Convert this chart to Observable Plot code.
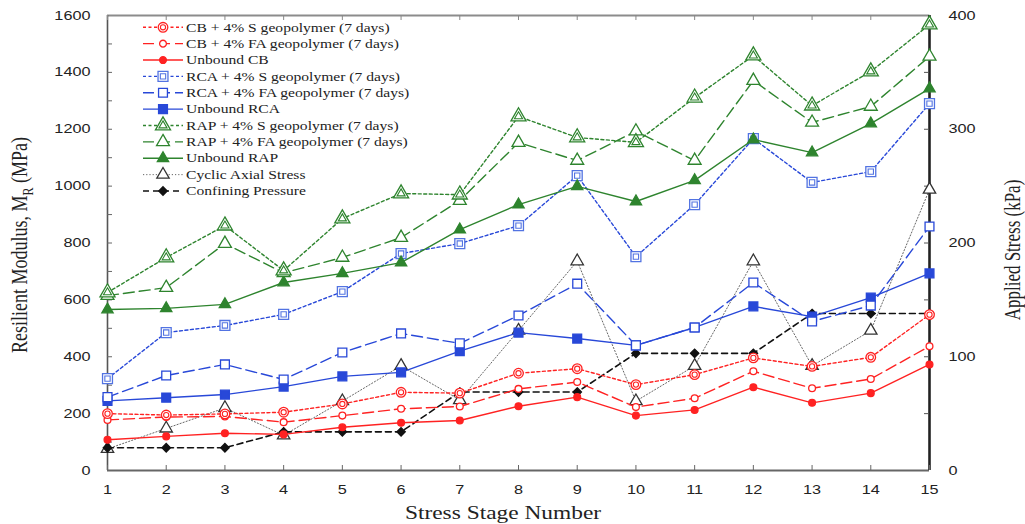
<!DOCTYPE html>
<html>
<head>
<meta charset="utf-8">
<script src="https://cdn.jsdelivr.net/npm/d3@7"></script>
<script src="https://cdn.jsdelivr.net/npm/@observablehq/plot@0.6"></script>
<style>
  html, body { margin: 0; padding: 0; background: #fff; }
  #chart { width: 1025px; height: 524px; }
</style>
</head>
<body>
<div id="chart"></div>
<script>
// ---------- data ----------
const stages = [1, 2, 3, 4, 5, 6, 7, 8, 9, 10, 11, 12, 13, 14, 15];
const leftTickLabels = [0, 200, 400, 600, 800, 1000, 1200, 1400, 1600];
const leftMinorTicks = [100, 200, 300, 400, 500, 600, 700, 800, 900, 1000, 1100, 1200, 1300, 1400, 1500];
const rightTickLabels = [0, 100, 200, 300, 400];          // kPa
const rightMinorTicks = [50, 100, 150, 200, 250, 300, 350]; // kPa

const seriesNames = [
  "CB + 4% S geopolymer (7 days)",
  "CB + 4% FA geopolymer (7 days)",
  "Unbound CB",
  "RCA + 4% S geopolymer (7 days)",
  "RCA + 4% FA geopolymer (7 days)",
  "Unbound RCA",
  "RAP + 4% S geopolymer (7 days)",
  "RAP + 4% FA geopolymer (7 days)",
  "Unbound RAP",
  "Cyclic Axial Stress",
  "Confining Pressure"
];

// Resilient modulus (MPa)
const cbS   = [200, 195, 199, 205, 234, 275, 272, 342, 358, 302, 337, 396, 366, 398, 548];
const cbFA  = [178, 188, 190, 170, 193, 217, 225, 287, 311, 223, 254, 349, 289, 322, 437];
const cbU   = [108, 120, 131, 127, 152, 168, 176, 226, 258, 193, 213, 293, 238, 272, 373];
const rcaS  = [323, 485, 510, 549, 629, 763, 798, 861, 1037, 752, 935, 1167, 1013, 1051, 1290];
const rcaFA = [258, 334, 373, 320, 415, 482, 447, 545, 657, 440, 503, 661, 524, 580, 858];
const rcaU  = [245, 256, 267, 295, 331, 345, 420, 485, 464, 440, 503, 577, 541, 608, 693];
const rapS  = [626, 749, 861, 703, 886, 974, 970, 1245, 1171, 1154, 1311, 1459, 1283, 1403, 1568];
const rapFA = [615, 643, 798, 695, 749, 819, 949, 1153, 1090, 1193, 1090, 1371, 1224, 1280, 1456];
const rapU  = [566, 570, 584, 661, 693, 731, 847, 935, 999, 946, 1020, 1164, 1118, 1220, 1343];
// Applied stress (kPa)
const cyclicAxial = [19, 37, 55, 31, 61, 92, 62, 123, 184, 61, 92, 184, 92, 123, 247];
const confining   = [20, 20, 20, 34, 34, 34, 69, 69, 69, 103, 103, 103, 138, 138, 138];

const seriesValues = [cbS, cbFA, cbU, rcaS, rcaFA, rcaU, rapS, rapFA, rapU, cyclicAxial, confining];
const seriesUnit   = ["MPa","MPa","MPa","MPa","MPa","MPa","MPa","MPa","MPa","kPa","kPa"];

// ---------- styles ----------
const RED = "#ff2222", BLUE = "#2848d8", BLUE_S = "#5273e2", GREEN = "#2e842e";
const styles = [
  {color: RED,   dash: "3,2.5", sym: "circle",   r: 4.8, fill: "white", inner: 2.6},
  {color: RED,   dash: "11,5",  sym: "circle",   r: 3.4, fill: "white"},
  {color: RED,   dash: null,    sym: "circle",   r: 3.4, fill: RED},
  {color: BLUE,  dash: "3,2.5", sym: "square",   r: 5.6, fill: "white", inner: 3.0, mcolor: BLUE_S},
  {color: BLUE,  dash: "11,5",  sym: "square",   r: 5.0, fill: "white"},
  {color: BLUE,  dash: null,    sym: "square",   r: 5.0, fill: BLUE},
  {color: GREEN, dash: "3,2.5", sym: "triangle", r: 5.6, fill: "white", inner: 3.0},
  {color: GREEN, dash: "11,5",  sym: "triangle", r: 4.8, fill: "white"},
  {color: GREEN, dash: null,    sym: "triangle", r: 4.2, fill: GREEN},
  {color: "#666", dash: "1.2,2", sym: "triangle", r: 4.6, fill: "white", mcolor: "#333", width: 1},
  {color: "#111", dash: "6,4",  sym: "diamond2", r: 3.8, fill: "#111", width: 1.6}
];

const W = 1025, H = 524, mL = 107, mR = 96, mT = 15, mB = 54;
const innerW = W - mL - mR, innerH = H - mT - mB;
const kpaToAxis = 1600 / 400; // right axis 0-400 kPa shares the 0-1600 MPa frame

const rows = seriesNames.flatMap((name, i) => stages.map((s, j) => ({
  series: name, idx: i, stage: s, value: seriesValues[i][j],
  y: seriesValues[i][j] * (seriesUnit[i] === "kPa" ? kpaToAxis : 1)
})));

const drawOrder = [9, 10, 2, 1, 0, 5, 4, 3, 8, 7, 6];
const seriesMarks = drawOrder.flatMap(i => {
  const st = styles[i];
  const d = rows.filter(r => r.idx === i);
  const mc = st.mcolor || st.color;
  const m = [
    Plot.line(d, {x: "stage", y: "y", stroke: st.color, strokeWidth: st.width || 1.4,
                  strokeDasharray: st.dash || undefined}),
    Plot.dot(d, {x: "stage", y: "y", symbol: st.sym, r: st.r, stroke: mc, fill: st.fill, strokeWidth: 1.3})
  ];
  if (st.inner) m.push(Plot.dot(d, {x: "stage", y: "y", symbol: st.sym, r: st.inner, stroke: mc, fill: "none", strokeWidth: 1.1}));
  return m;
});

const svg = Plot.plot({
  width: W, height: H,
  marginLeft: mL, marginRight: mR, marginTop: mT, marginBottom: mB,
  style: {fontFamily: "'Liberation Sans', Arial, sans-serif", fontSize: "12.5px", color: "#222", background: "#fff"},
  x: {domain: [1, 15]},
  y: {domain: [0, 1600]},
  marks: [
    // frame
    Plot.ruleY([1600], {stroke: "#8c8c8c", strokeWidth: 2}),
    Plot.ruleY([0], {stroke: "#666", strokeWidth: 2}),
    Plot.ruleX([1], {stroke: "#555", strokeWidth: 1.6}),
    Plot.ruleX([15], {stroke: "#222", strokeWidth: 2.6}),
    // inward ticks
    Plot.tickX(stages, {x: d => d, insetTop: innerH - 5, stroke: "#666"}),
    Plot.tickX(stages, {x: d => d, insetBottom: innerH - 5, stroke: "#888"}),
    Plot.tickY(leftMinorTicks, {y: d => d, insetRight: innerW - 5, stroke: "#666"}),
    Plot.tickY(rightMinorTicks, {y: d => d * kpaToAxis, insetLeft: innerW - 5, stroke: "#555"}),
    // axis labels
    Plot.axisX(stages, {anchor: "bottom", tickSize: 0, tickPadding: 15, label: null, tickFormat: d => String(d)}),
    Plot.axisY(leftTickLabels, {anchor: "left", tickSize: 0, tickPadding: 17, label: null, tickFormat: d => String(d)}),
    Plot.axisY(rightTickLabels.map(d => d * kpaToAxis), {anchor: "right", tickSize: 0, tickPadding: 19,
      tickFormat: d => String(d / kpaToAxis), label: null}),
    ...seriesMarks
  ]
});

document.getElementById("chart").appendChild(svg);

// horizontal stretch of text to match the reference rendering
const SX = 1.3;
d3.select(svg).selectAll('g[aria-label$="tick label"] text').each(function () {
  const t = this.getAttribute("transform");
  if (t) this.setAttribute("transform", t + ` scale(${SX},1)`);
  else {
    const x = +this.getAttribute("x") || 0, y = +this.getAttribute("y") || 0;
    this.setAttribute("x", 0); this.setAttribute("y", 0);
    this.setAttribute("transform", `translate(${x},${y}) scale(${SX},1)`);
  }
});

const SERIF = "'Liberation Serif', 'Times New Roman', serif";
const root = d3.select(svg);

// axis titles
root.append("text")
  .attr("transform", `translate(503,519) scale(${SX},1)`)
  .attr("text-anchor", "middle").attr("font-family", SERIF).attr("font-size", 18).attr("fill", "#222")
  .text("Stress Stage Number");

const lt = root.append("text")
  .attr("transform", `translate(19,245) scale(${SX},1) rotate(-90)`)
  .attr("text-anchor", "middle").attr("dy", "0.35em")
  .attr("font-family", SERIF).attr("font-size", 18).attr("fill", "#222");
lt.append("tspan").text("Resilient Modulus, M");
lt.append("tspan").attr("font-size", 12).attr("dy", "0.35em").text("R");
lt.append("tspan").attr("dy", "-0.25em").text(" (MPa)");

root.append("text")
  .attr("transform", `translate(1012,250) scale(${SX},1) rotate(-90)`)
  .attr("text-anchor", "middle").attr("dy", "0.35em")
  .attr("font-family", SERIF).attr("font-size", 17).attr("fill", "#222")
  .text("Applied Stress (kPa)");

// legend
const symType = {circle: d3.symbolCircle, square: d3.symbolSquare, triangle: d3.symbolTriangle, diamond2: d3.symbolDiamond2};
const lg = root.append("g").attr("font-family", SERIF).attr("font-size", 12).attr("fill", "#222")
  .attr("text-anchor", "start");
seriesNames.forEach((name, i) => {
  const st = styles[i];
  const y = 27.3 + i * 16.37;
  const mc = st.mcolor || st.color;
  lg.append("line").attr("x1", 143).attr("x2", 183).attr("y1", y).attr("y2", y)
    .attr("stroke", st.color).attr("stroke-width", st.width || 1.4)
    .attr("stroke-dasharray", st.dash || null);
  lg.append("path").attr("transform", `translate(163,${y})`)
    .attr("d", d3.symbol(symType[st.sym], Math.PI * st.r * st.r)())
    .attr("fill", st.fill).attr("stroke", mc).attr("stroke-width", 1.3);
  if (st.inner) lg.append("path").attr("transform", `translate(163,${y})`)
    .attr("d", d3.symbol(symType[st.sym], Math.PI * st.inner * st.inner)())
    .attr("fill", "none").attr("stroke", mc).attr("stroke-width", 1.1);
  lg.append("text").attr("transform", `translate(186,${y}) scale(${SX},1)`)
    .attr("text-anchor", "start").attr("dy", "0.35em").text(name);
});
</script>
</body>
</html>
